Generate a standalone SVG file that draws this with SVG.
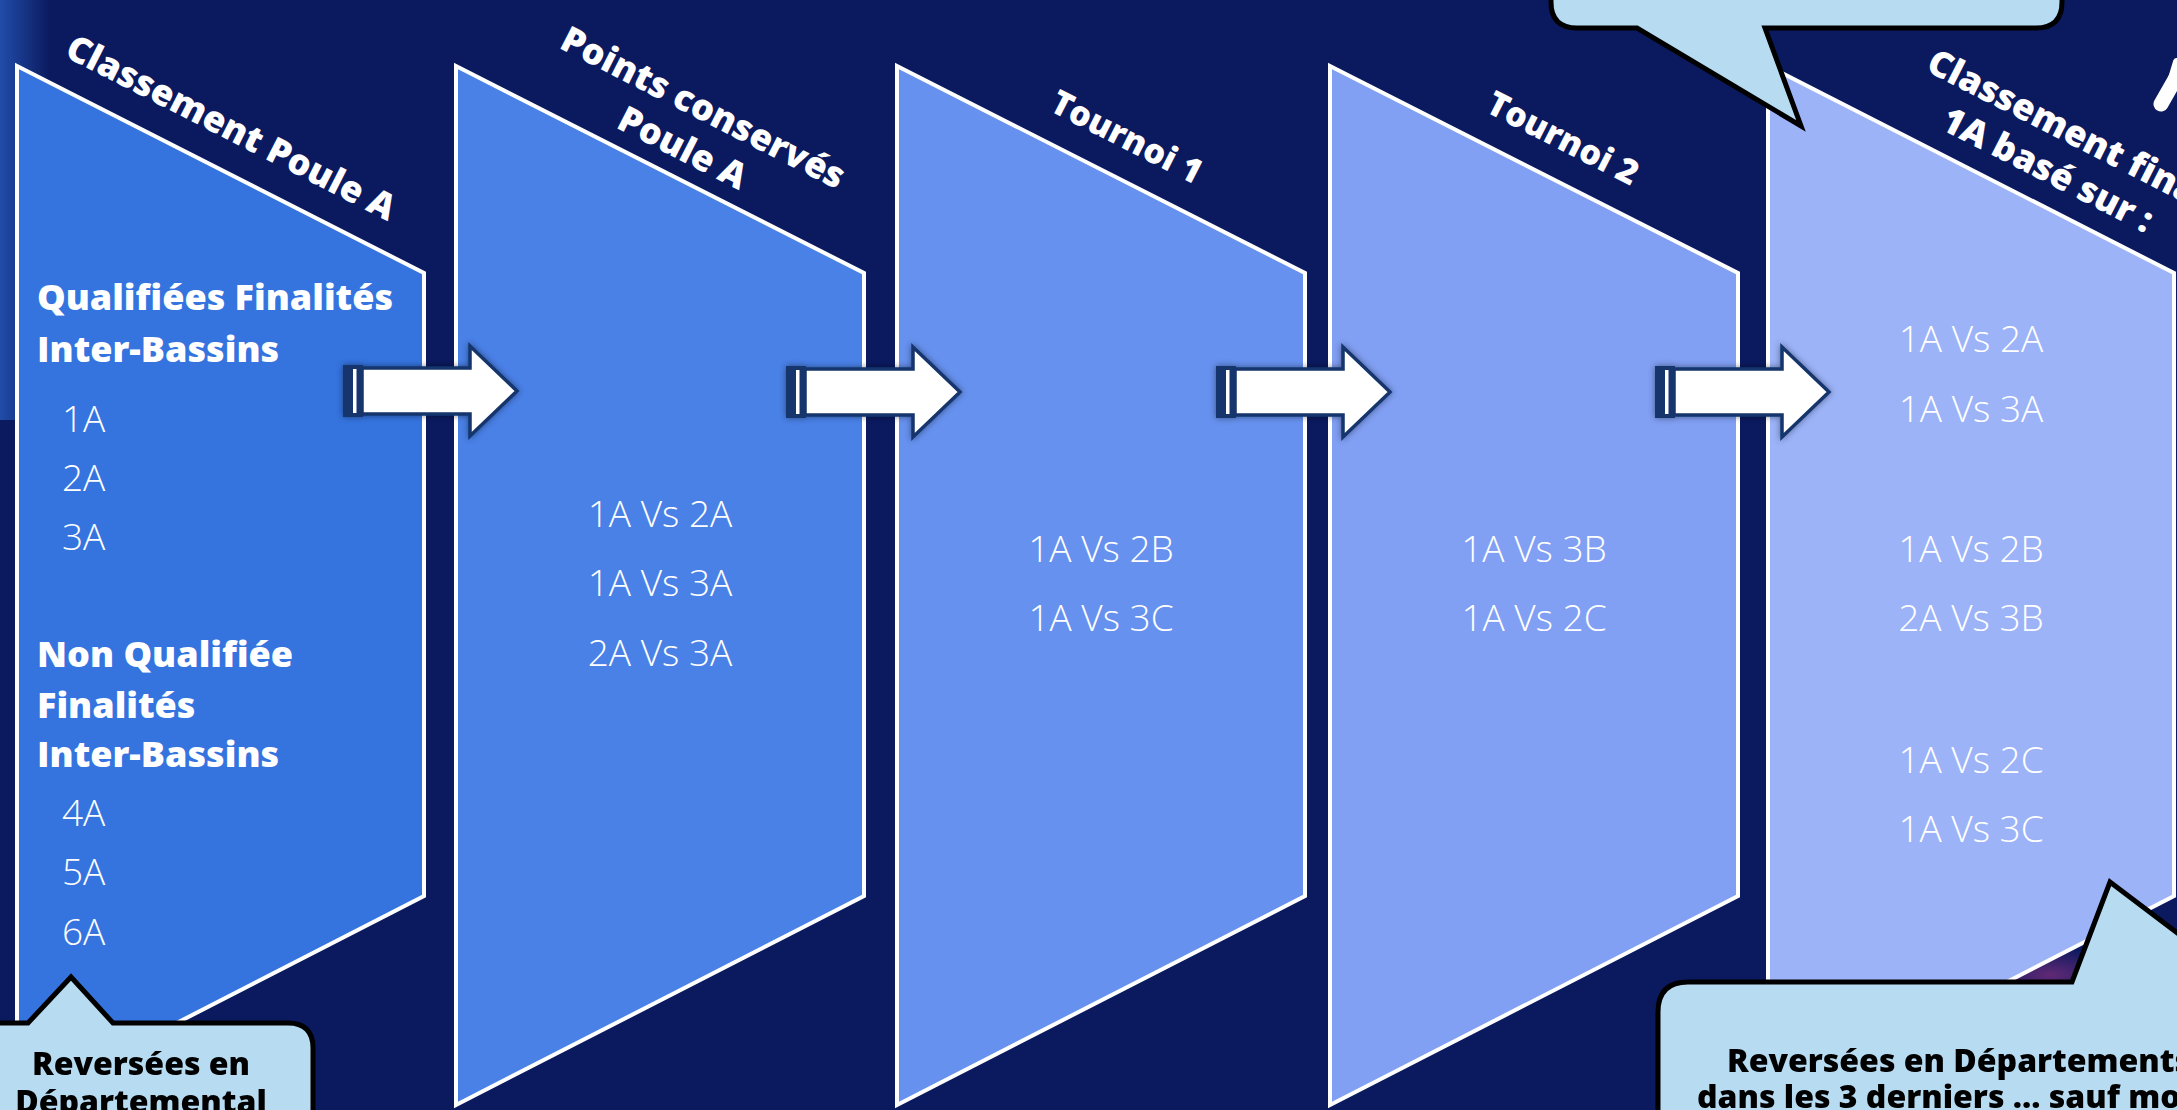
<svg xmlns="http://www.w3.org/2000/svg" width="2177" height="1110" viewBox="0 0 2177 1110">
<defs>
<style>
.stage{stroke:#fff;stroke-width:4;stroke-linejoin:miter}
.title{font-family:"Open Sans","Noto Sans",sans-serif;font-weight:800;font-size:36px;fill:#fff;text-anchor:middle}
.t2{font-size:34px}
.body{font-family:"Open Sans","Noto Sans",sans-serif;font-weight:300;font-size:37px;fill:#fff}
.mid{text-anchor:middle}
.head{font-family:"Open Sans","Noto Sans",sans-serif;font-weight:800;font-size:36px;fill:#fff}
.bubble{fill:#b7dcf2;stroke:#000;stroke-width:5;stroke-linejoin:miter}
.btext{font-family:"Open Sans","Noto Sans",sans-serif;font-weight:800;font-size:32px;fill:#000}
</style>
<linearGradient id="glow" x1="0" y1="0" x2="1" y2="0">
<stop offset="0" stop-color="#2a62c8" stop-opacity="0.7"/>
<stop offset="1" stop-color="#2a62c8" stop-opacity="0"/>
</linearGradient>
<radialGradient id="purp" cx="0.5" cy="0.5" r="0.5">
<stop offset="0" stop-color="#6a2a78" stop-opacity="0.9"/>
<stop offset="1" stop-color="#6a2a78" stop-opacity="0"/>
</radialGradient>
<filter id="shadow" x="-20%" y="-30%" width="140%" height="160%">
<feDropShadow dx="0" dy="0" stdDeviation="3" flood-color="#000" flood-opacity="0.45"/>
</filter>
<g id="arr">
<rect x="0" y="-26" width="20" height="52" fill="#14356c"/>
<path d="M19,-23 H127 V-45 L174,0 L127,45 V23 H19 Z" fill="#fff" stroke="#14356c" stroke-width="3.5"/>
<rect x="10" y="-22" width="3.5" height="44" fill="#fff"/>
</g>
</defs>

<g id="background">
<rect width="2177" height="1110" fill="#0b1a5f"/>
<rect x="0" y="0" width="50" height="420" fill="url(#glow)"/>
<ellipse cx="2050" cy="975" rx="70" ry="28" fill="url(#purp)"/>
</g>

<g id="node-classement-poule-a">
<polygon class="stage" fill="#3574df" points="17,66 424,273 424,896 17,1105"/>
<text class="title" transform="translate(231,128) rotate(27)" y="12">Classement Poule A</text>
<text class="head" x="37" y="310">Qualifiées Finalités</text>
<text class="head" x="37" y="362">Inter-Bassins</text>
<text class="body" x="62" y="432">1A</text>
<text class="body" x="62" y="491">2A</text>
<text class="body" x="62" y="550">3A</text>
<text class="head" x="37" y="667">Non Qualifiée</text>
<text class="head" x="37" y="718">Finalités</text>
<text class="head" x="37" y="767">Inter-Bassins</text>
<text class="body" x="62" y="826">4A</text>
<text class="body" x="62" y="885">5A</text>
<text class="body" x="62" y="945">6A</text>
</g>

<g id="node-points-conserves">
<polygon class="stage" fill="#4a81e7" points="456,66 864,273 864,896 456,1105"/>
<text class="title" transform="translate(703,108) rotate(27)"><tspan x="0" y="12">Points conservés</tspan><tspan x="0" dy="45">Poule A</tspan></text>
<text class="body mid" x="660" y="527">1A Vs 2A</text>
<text class="body mid" x="660" y="596">1A Vs 3A</text>
<text class="body mid" x="660" y="666">2A Vs 3A</text>
</g>

<g id="node-tournoi-1">
<polygon class="stage" fill="#6691ee" points="897,66 1305,273 1305,896 897,1105"/>
<text class="title t2" transform="translate(1127,137) rotate(27)" y="12">Tournoi 1</text>
<text class="body mid" x="1101" y="562">1A Vs 2B</text>
<text class="body mid" x="1101" y="631">1A Vs 3C</text>
</g>

<g id="node-tournoi-2">
<polygon class="stage" fill="#819ff3" points="1330,66 1738,273 1738,896 1330,1105"/>
<text class="title t2" transform="translate(1563,138) rotate(27)" y="12">Tournoi 2</text>
<text class="body mid" x="1534" y="562">1A Vs 3B</text>
<text class="body mid" x="1534" y="631">1A Vs 2C</text>
</g>

<g id="node-classement-final">
<polygon class="stage" fill="#9cb3f8" points="1768,66 2174,273 2174,896 1768,1105"/>
<text class="title" transform="translate(2068,130) rotate(27)"><tspan x="0" y="12">Classement final</tspan><tspan x="0" dy="45">1A basé sur :</tspan></text>
<text class="body mid" x="1971" y="352">1A Vs 2A</text>
<text class="body mid" x="1971" y="422">1A Vs 3A</text>
<text class="body mid" x="1971" y="562">1A Vs 2B</text>
<text class="body mid" x="1971" y="631">2A Vs 3B</text>
<text class="body mid" x="1971" y="773">1A Vs 2C</text>
<text class="body mid" x="1971" y="842">1A Vs 3C</text>
</g>

<g id="decor-figure">
<path d="M2161,104 L2177,76" stroke="#fff" stroke-width="15" stroke-linecap="round" fill="none"/>
<path d="M2171,82 L2177,62" stroke="#fff" stroke-width="8" stroke-linecap="round" fill="none"/>
</g>

<g id="connectors" filter="url(#shadow)">
<use href="#arr" transform="translate(343,391)"/>
<use href="#arr" transform="translate(786,392)"/>
<use href="#arr" transform="translate(1216,392)"/>
<use href="#arr" transform="translate(1655,392)"/>
</g>

<g id="callout-top">
<path class="bubble" d="M1551,-60 L1551,2 Q1551,28 1577,28 L1637,28 L1801,126 L1765,28 L2036,28 Q2062,28 2062,2 L2062,-60 Z"/>
</g>

<g id="callout-bottom-left">
<path class="bubble" d="M-20,1023 L28,1023 L71,977 L113,1023 L288,1023 Q313,1023 313,1048 L313,1140 L-20,1140 Z"/>
<text class="btext mid" x="141" y="1075">Reversées en</text>
<text class="btext mid" x="141" y="1113">Départemental</text>
</g>

<g id="callout-bottom-right">
<path class="bubble" d="M1658,1140 L1658,1012 Q1658,982 1688,982 L2072,982 L2110,882 L2250,988 L2250,1140 Z"/>
<text class="btext" x="1727" y="1072">Reversées en Départements</text>
<text class="btext" x="1697" y="1108">dans les 3 derniers … sauf mo</text>
</g>
</svg>
